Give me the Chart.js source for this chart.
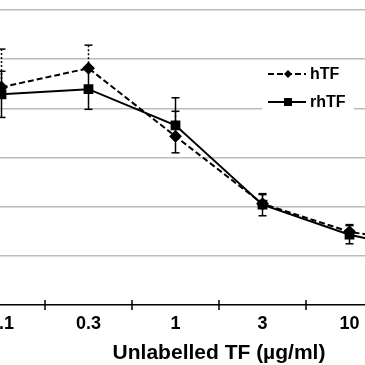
<!DOCTYPE html>
<html><head><meta charset="utf-8">
<script src="https://cdn.jsdelivr.net/npm/chart.js@4.4.1/dist/chart.umd.min.js"></script>
<style>
html,body{margin:0;padding:0;background:#fff;overflow:hidden;width:365px;height:365px;}
#wrap{position:absolute;left:-102px;top:0;width:600px;height:368px;}
</style></head><body>
<div id="wrap"><canvas id="c" width="600" height="368"></canvas></div>
<script>
const categories = ['0.1', '0.3', '1', '3', '10', '30'];
const hTF = [88.6, 96.3, 68.6, 41.2, 29.8, 24];
const rhTF = [85.7, 87.8, 73.1, 40.8, 28.6, 21];
const hTFErrPlus = [15.5, 9.4, 10.2, 3.7, 2.9, 2.5];
const rhTFErr = [9.4, 8.2, 11.2, 4.5, 3.7, 3];
const yTicks = [0, 20, 40, 60, 80, 100, 120];
const xTitle = 'Unlabelled TF (µg/ml)';

const FONT = "'Liberation Sans', Arial, sans-serif";

const errorBars = {
  id: 'errorBars',
  afterDatasetsDraw(chart) {
    const y = chart.scales.y, x = chart.scales.x, ctx = chart.ctx;
    chart.data.datasets.forEach((ds, di) => {
      const up = ds.errPlus || [], dn = ds.errMinus || [];
      ctx.save();
      ctx.strokeStyle = '#000';
      ctx.lineWidth = 1.5;
      ctx.setLineDash(ds.errDash || []);
      ds.data.forEach((v, i) => {
        const px = x.getPixelForValue(i);
        const top = y.getPixelForValue(v + (up[i] || 0));
        const bot = y.getPixelForValue(v - (dn[i] || 0));
        ctx.beginPath(); ctx.moveTo(px, top); ctx.lineTo(px, bot); ctx.stroke();
        ctx.setLineDash([]);
        if (up[i]) { ctx.beginPath(); ctx.moveTo(px - 4, top); ctx.lineTo(px + 4, top); ctx.stroke(); }
        if (dn[i]) { ctx.beginPath(); ctx.moveTo(px - 4, bot); ctx.lineTo(px + 4, bot); ctx.stroke(); }
        ctx.setLineDash(ds.errDash || []);
      });
      ctx.restore();
    });
  }
};

const axisTicks = {
  id: 'axisTicks',
  afterDraw(chart) {
    const x = chart.scales.x, ctx = chart.ctx;
    const yb = chart.chartArea.bottom;
    const n = chart.data.labels.length;
    ctx.save();
    ctx.strokeStyle = '#000'; ctx.lineWidth = 1.5;
    for (let i = 0; i <= n; i++) {
      const px = (x.getPixelForValue(Math.max(0, i - 1)) + x.getPixelForValue(Math.min(n - 1, i))) / 2;
      let p = px;
      if (i === 0) p = chart.chartArea.left;
      if (i === n) p = chart.chartArea.right;
      ctx.beginPath(); ctx.moveTo(p, yb - 5); ctx.lineTo(p, yb + 5); ctx.stroke();
    }
    ctx.restore();
  }
};

const boxLegend = {
  id: 'boxLegend',
  afterDraw(chart) {
    const ctx = chart.ctx;
    const ox = 102; // canvas offset
    ctx.save();
    ctx.fillStyle = '#fff';
    ctx.fillRect(262 + ox, 63, 92, 50);
    const items = chart.data.datasets;
    const rows = [74, 102];
    items.forEach((ds, i) => {
      const yy = rows[i];
      ctx.strokeStyle = '#000'; ctx.lineWidth = 2;
      ctx.setLineDash(ds.borderDash || []);
      ctx.beginPath(); ctx.moveTo(268 + ox, yy); ctx.lineTo(306 + ox, yy); ctx.stroke();
      ctx.setLineDash([]);
      ctx.fillStyle = '#000';
      if (ds.pointStyle === 'rect') {
        ctx.fillRect(288 + ox - 4, yy - 4, 8, 8);
      } else {
        ctx.beginPath();
        ctx.moveTo(288 + ox - 4, yy); ctx.lineTo(288 + ox, yy - 4);
        ctx.lineTo(288 + ox + 4, yy); ctx.lineTo(288 + ox, yy + 4);
        ctx.closePath(); ctx.fill();
      }
      ctx.font = 'bold 16px ' + FONT;
      ctx.textBaseline = 'middle';
      ctx.textAlign = 'left';
      ctx.fillText(ds.label, 310 + ox, yy + 1);
    });
    ctx.restore();
  }
};

new Chart(document.getElementById('c'), {
  type: 'line',
  data: {
    labels: categories,
    datasets: [
      { label: 'hTF', data: hTF, errPlus: hTFErrPlus, errDash: [2, 2],
        borderColor: '#000', backgroundColor: '#000', borderWidth: 2, borderDash: [6, 3],
        pointStyle: 'rectRot', pointRadius: 5, pointHoverRadius: 5, tension: 0 },
      { label: 'rhTF', data: rhTF, errPlus: rhTFErr, errMinus: rhTFErr,
        borderColor: '#000', backgroundColor: '#000', borderWidth: 2,
        pointStyle: 'rect', pointRadius: 5.5, pointHoverRadius: 5.5, tension: 0 }
    ]
  },
  options: {
    responsive: false,
    animation: false,
    events: [],
    layout: { padding: { left: 0, right: 18, top: 10, bottom: 0 } },
    plugins: { legend: { display: false }, tooltip: { enabled: false } },
    scales: {
      x: {
        offset: true,
        grid: { display: false, drawTicks: false },
        border: { display: true, color: '#000', width: 1.5 },
        ticks: { color: '#000', font: { family: FONT, size: 18, weight: 'bold' }, padding: 8, maxRotation: 0 },
        title: { display: true, text: xTitle, color: '#000', font: { family: FONT, size: 21, weight: 'bold' }, padding: { top: 4, bottom: 2 } },
        afterFit(s) { s.height = 63; }
      },
      y: {
        min: 0, max: 120,
        afterBuildTicks(s) { s.ticks = yTicks.map(v => ({ value: v })); },
        grid: { color: c => c.tick && c.tick.value === 0 ? 'rgba(0,0,0,0)' : '#bcbcbc', lineWidth: 1.5, drawTicks: false },
        border: { display: false },
        ticks: { display: false },
        afterFit(s) { s.width = 60; }
      }
    }
  },
  plugins: [errorBars, axisTicks, boxLegend]
});
</script>
</body></html>
